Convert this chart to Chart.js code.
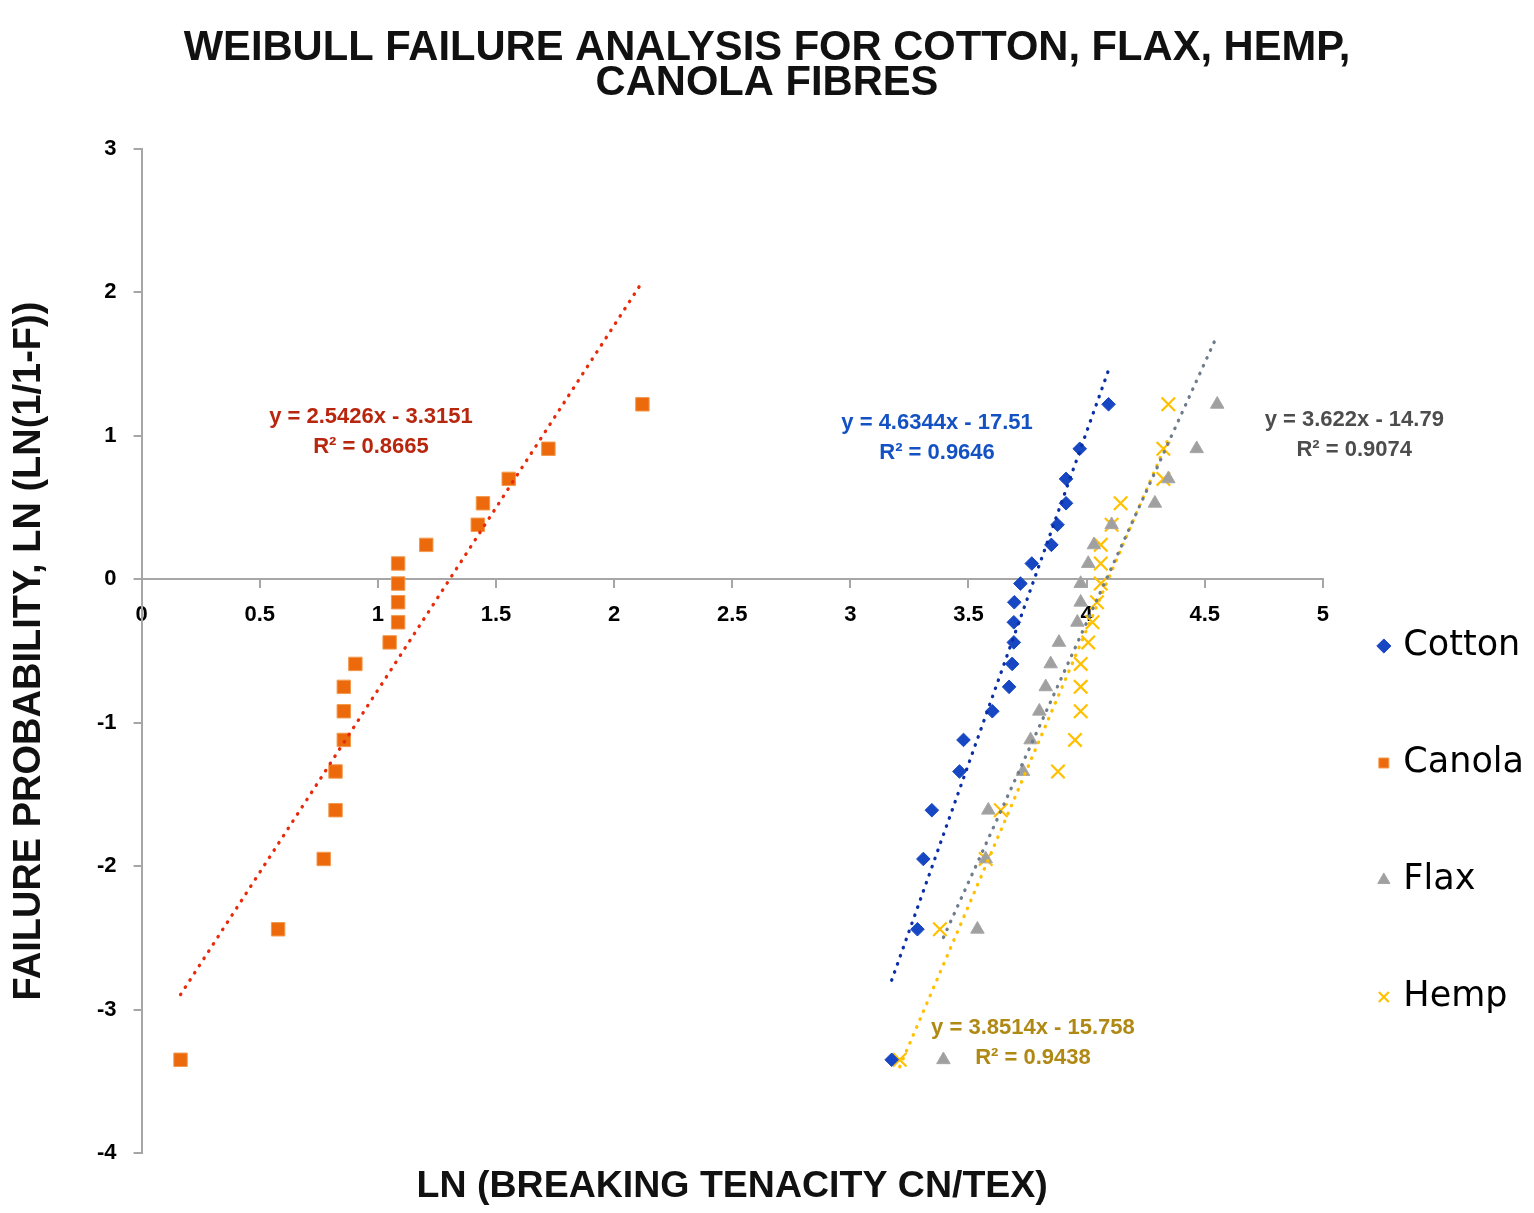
<!DOCTYPE html>
<html>
<head>
<meta charset="utf-8">
<script src="https://cdn.jsdelivr.net/npm/chart.js@4.4.1/dist/chart.umd.min.js"></script>
<style>
html, body { margin: 0; padding: 0; background: #ffffff; }
canvas { display: block; }
</style>
</head>
<body>
<canvas id="chart" width="1534" height="1213"></canvas>
<script>
// ---------------- data ----------------
const seriesNames = ['Cotton', 'Canola', 'Flax', 'Hemp'];

// failure probability ln(ln(1/(1-F))) for the 20 ranked specimens (shared y levels)
const failureProbability = [-3.35, -2.44, -1.95, -1.61, -1.34, -1.12, -0.92, -0.75, -0.59, -0.44,
                            -0.30, -0.16, -0.03, 0.11, 0.24, 0.38, 0.53, 0.70, 0.91, 1.22];

// ln(breaking tenacity cN/tex) for each series
const cottonLnTenacity = [3.175, 3.284, 3.309, 3.345, 3.462, 3.479, 3.601, 3.672, 3.685, 3.692,
                          3.692, 3.694, 3.720, 3.768, 3.851, 3.877, 3.913, 3.913, 3.971, 4.093];
const canolaLnTenacity = [0.165, 0.578, 0.771, 0.821, 0.821, 0.856, 0.856, 0.856, 0.905, 1.050,
                          1.086, 1.086, 1.086, 1.086, 1.205, 1.423, 1.445, 1.554, 1.722, 2.120];
const flaxLnTenacity   = [3.394, 3.538, 3.573, 3.584, 3.731, 3.763, 3.800, 3.827, 3.848, 3.883,
                          3.961, 3.975, 3.975, 4.007, 4.031, 4.106, 4.289, 4.346, 4.466, 4.553];
const hempLnTenacity   = [3.209, 3.379, 3.573, 3.637, 3.879, 3.951, 3.975, 3.975, 3.975, 4.007,
                          4.025, 4.044, 4.060, 4.060, 4.060, 4.106, 4.144, 4.325, 4.325, 4.346];

// linear trendlines shown in the chart (slope, intercept)
const trendSlopes     = [4.6344, 2.5426, 3.622, 3.8514];
const trendIntercepts = [-17.51, -3.3151, -14.79, -15.758];
const equationTexts   = ['y = 4.6344x - 17.51', 'y = 2.5426x - 3.3151', 'y = 3.622x - 14.79', 'y = 3.8514x - 15.758'];
const r2Texts         = ['R\u00B2 = 0.9646', 'R\u00B2 = 0.8665', 'R\u00B2 = 0.9074', 'R\u00B2 = 0.9438'];

const titleLines = ['WEIBULL FAILURE ANALYSIS FOR COTTON, FLAX, HEMP,', 'CANOLA FIBRES'];
const xAxisTitle = 'LN (BREAKING TENACITY CN/TEX)';
const yAxisTitle = 'FAILURE PROBABILITY, LN (LN(1/1-F))';

// ---------------- styling ----------------
const seriesX = [cottonLnTenacity, canolaLnTenacity, flaxLnTenacity, hempLnTenacity];
const markerStyles = [
  { pointStyle: 'rectRot',  backgroundColor: '#1747C2', borderColor: '#1747C2', borderWidth: 1,   pointRadius: 6.8 },
  { pointStyle: 'rect',     backgroundColor: '#EC6A0C', borderColor: '#F39A4E', borderWidth: 1,   pointRadius: 9.5 },
  { pointStyle: 'triangle', backgroundColor: '#A0A0A0', borderColor: '#A6A6A6', borderWidth: 1,   pointRadius: 7.8 },
  { pointStyle: 'crossRot', backgroundColor: '#FFC000', borderColor: '#FFC000', borderWidth: 2.2, pointRadius: 9.5 }
];
const trendColors = ['#0A2FA8', '#E8290A', '#6F7C8C', '#FFC000'];
const labelFontBold = 'bold 22px "Liberation Sans", Arial, sans-serif';
const labelStyles = [
  { color: '#1452C4', x: 3.367, y: 1.093 },
  { color: '#B8260E', x: 0.971, y: 1.134 },
  { color: '#4D4D4D', x: 5.133, y: 1.113 },
  { color: '#B08814', x: 3.773, y: -3.125 }
];
const labelLineGap = 30.5;

const datasets = [];
seriesNames.forEach((name, i) => {
  datasets.push(Object.assign({
    label: name,
    data: seriesX[i].map((xv, k) => ({ x: xv, y: failureProbability[k] })),
    pointHoverRadius: markerStyles[i].pointRadius,
    order: 1
  }, markerStyles[i]));
});
seriesNames.forEach((name, i) => {
  const xs = seriesX[i];
  const x0 = Math.min(...xs), x1 = Math.max(...xs);
  datasets.push({
    label: name + ' trend',
    isTrend: true,
    data: [x0, x1].map(xv => ({ x: xv, y: trendSlopes[i] * xv + trendIntercepts[i] })),
    showLine: true,
    pointRadius: 0,
    pointHoverRadius: 0,
    borderColor: trendColors[i],
    backgroundColor: trendColors[i],
    borderWidth: 3.3,
    borderDash: [0.5, 8.1],
    borderCapStyle: 'round',
    fill: false,
    order: 0
  });
});

const trendLabelPlugin = {
  id: 'trendLabels',
  afterDatasetsDraw(chart) {
    const ctx = chart.ctx;
    const xs = chart.scales.x, ys = chart.scales.y;
    ctx.save();
    ctx.textAlign = 'center';
    ctx.textBaseline = 'middle';
    ctx.font = labelFontBold;
    labelStyles.forEach((st, i) => {
      ctx.fillStyle = st.color;
      const px = xs.getPixelForValue(st.x);
      const py = ys.getPixelForValue(st.y);
      ctx.fillText(equationTexts[i], px, py);
      ctx.fillText(r2Texts[i], px, py + labelLineGap);
    });
    ctx.restore();
  }
};

const axisGray = '#A6A6A6';
const tickFont = { family: '"Liberation Sans", Arial, sans-serif', weight: 'bold', size: 22 };
const baseLabels = Chart.defaults.plugins.legend.labels.generateLabels;

new Chart(document.getElementById('chart'), {
  type: 'scatter',
  data: { datasets },
  plugins: [trendLabelPlugin],
  options: {
    responsive: false,
    animation: false,
    layout: { padding: 0 },
    plugins: {
      tooltip: { enabled: false },
      title: {
        display: true,
        text: titleLines,
        color: '#111111',
        font: { family: '"Liberation Sans", Arial, sans-serif', weight: 'bold', size: 41.7, lineHeight: 35 / 41.7 },
        padding: { top: 31.5, bottom: 47.5 }
      },
      legend: {
        position: 'right',
        align: 'start',
        title: { display: true, text: '', padding: { top: 568.5, bottom: 0 }, font: { size: 1, lineHeight: 1 } },
        labels: {
          usePointStyle: true,
          boxWidth: 4,
          boxHeight: 10,
          padding: 59,
          color: '#000000',
          font: { family: '"DejaVu Sans", Verdana, sans-serif', size: 35, lineHeight: 29 / 35 },
          generateLabels: (chart) => baseLabels(chart).map(item => Object.assign(item, { text: [item.text, ''] })),
          filter: (item, data) => !data.datasets[item.datasetIndex].isTrend
        }
      }
    },
    scales: {
      x: {
        type: 'linear',
        position: { y: 0 },
        min: 0, max: 5,
        ticks: { stepSize: 0.5, color: '#000000', font: tickFont, padding: 14, callback: (v) => String(v) },
        grid: { drawOnChartArea: false, color: axisGray, tickLength: 8, lineWidth: 2 },
        border: { color: axisGray, width: 2 }
      },
      x2: {
        type: 'linear',
        position: 'bottom',
        min: 0, max: 5,
        grid: { display: false, drawTicks: false },
        border: { display: false },
        ticks: { display: false },
        title: {
          display: true,
          text: xAxisTitle,
          color: '#111111',
          font: { family: '"Liberation Sans", Arial, sans-serif', weight: 'bold', size: 37.5 },
          padding: { top: 11, bottom: 4 }
        }
      },
      y: {
        type: 'linear',
        position: 'left',
        min: -4, max: 3,
        ticks: { stepSize: 1, color: '#000000', font: tickFont, padding: 17 },
        grid: { drawOnChartArea: false, color: axisGray, tickLength: 8, lineWidth: 2 },
        border: { color: axisGray, width: 2 },
        title: {
          display: true,
          text: yAxisTitle,
          color: '#111111',
          font: { family: '"Liberation Sans", Arial, sans-serif', weight: 'bold', size: 38 },
          padding: { top: 7, bottom: 27.4 }
        }
      }
    }
  }
});
</script>
</body>
</html>
